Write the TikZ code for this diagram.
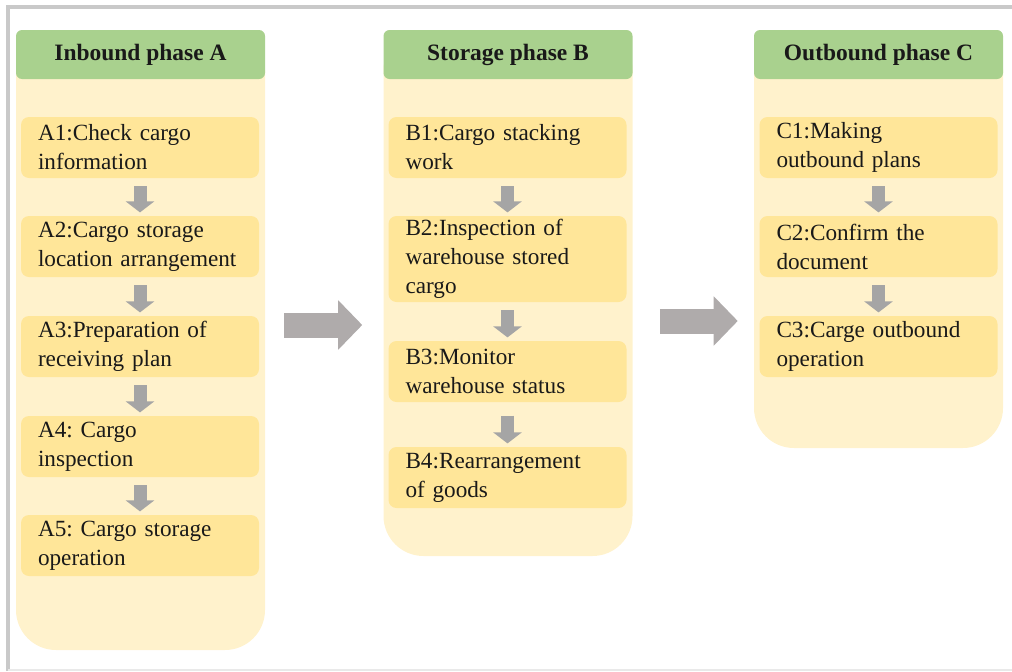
\documentclass[tikz,border=0pt]{standalone}
\usepackage{fontspec}
\setmainfont{Liberation Serif}
\usetikzlibrary{arrows.meta}
\definecolor{hdrgreen}{HTML}{A9D18E}
\definecolor{panelcream}{HTML}{FFF2CC}
\definecolor{taskyellow}{HTML}{FFE699}
\definecolor{arrowgray}{HTML}{A5A5A5}
\definecolor{bigarrowgray}{HTML}{AFABAB}
\definecolor{framegray}{HTML}{C9C9C9}
\frenchspacing

\begin{document}
\begin{tikzpicture}[x=0.75pt,y=-0.75pt]
  \tikzstyle{panel} = [rectangle,rounded corners=30pt,fill=panelcream,minimum
  width=186.75pt,inner sep=0pt]
  \tikzstyle{head} = [rectangle,rounded corners=4.5pt,fill=hdrgreen,minimum
  width=186.75pt,minimum height=36.75pt,inner sep=0pt,
  font=\bfseries\fontsize{17.6}{21}\selectfont,text=black!90]
  \tikzstyle{task} = [rectangle,rounded corners=6pt,fill=taskyellow,
  text width=153pt,inner xsep=12.75pt,inner ysep=0pt,minimum height=45.75pt,
  align=left,font=\fontsize{17.4}{21.75}\selectfont,text=black!90]

  \tikzstyle{taskarrow} = [-{Triangle[width=21pt,length=8.25pt]},
  line width=9.75pt,color=arrowgray,shorten <=6pt,shorten >=2.5pt]
  \tikzstyle{phasearrow} = [-{Triangle[width=36pt,length=18pt]},
  line width=18.75pt,color=bigarrowgray]

  \useasboundingbox (0,0) rectangle (1012,671);
  \draw[framegray,line width=3pt] (8,671) -- (8,7) -- (1012,7);
  \draw[framegray!40,line width=1pt] (8,670) -- (1012,670);

  % phase panels
  \node[panel,name=pa,minimum height=465pt] at (140.5,340) {};
  \node[panel,name=pb,minimum height=394.5pt] at (508,293) {};
  \node[panel,name=pc,minimum height=313.5pt] at (878.5,239) {};

  \node[head,name=ha] at (140.5,54.5) {Inbound phase A};
  \node[head,name=hb] at (508,54.5) {Storage phase B};
  \node[head,name=hc] at (878.5,54.5) {Outbound phase C};

  % inbound
  \node[task,name=a1] at (140,147.5) {A1:Check cargo\\information};
  \node[task,name=a2] at (140,246.5) {A2:Cargo storage\\location arrangement};
  \node[task,name=a3] at (140,346.5) {A3:Preparation of\\receiving plan};
  \node[task,name=a4] at (140,446.5) {A4: Cargo\\inspection};
  \node[task,name=a5] at (140,545.5) {A5: Cargo storage\\operation};

  % storage
  \node[task,name=b1] at (507.5,147.5) {B1:Cargo stacking\\work};
  \node[task,name=b2,minimum height=64.5pt] at (507.5,259)
  {B2:Inspection of\\warehouse stored\\cargo};
  \node[task,name=b3] at (507.5,371.5) {B3:Monitor\\warehouse status};
  \node[task,name=b4] at (507.5,477.5) {B4:Rearrangement\\of goods};

  % outbound
  \node[task,name=c1] at (878.5,147.5) {C1:Making\\outbound plans};
  \node[task,name=c2] at (878.5,246.5) {C2:Confirm the\\document};
  \node[task,name=c3] at (878.5,346.5) {C3:Carge outbound\\operation};

  \path (a1) edge[taskarrow] (a2);
  \path (a2) edge[taskarrow] (a3);
  \path (a3) edge[taskarrow] (a4);
  \path (a4) edge[taskarrow] (a5);
  \path (b1) edge[taskarrow] (b2);
  \path (b2) edge[taskarrow] (b3);
  \path (b3) edge[taskarrow,shorten <=10pt] (b4);
  \path (c1) edge[taskarrow] (c2);
  \path (c2) edge[taskarrow] (c3);

  \draw[phasearrow,shorten <=14.25pt,shorten >=15.75pt]
  (pa.east |- 0,325) -- (pb.west |- 0,325);
  \draw[phasearrow,shorten <=20.25pt,shorten >=12pt]
  (pb.east |- 0,321) -- (pc.west |- 0,321);

\end{tikzpicture}
\end{document}
